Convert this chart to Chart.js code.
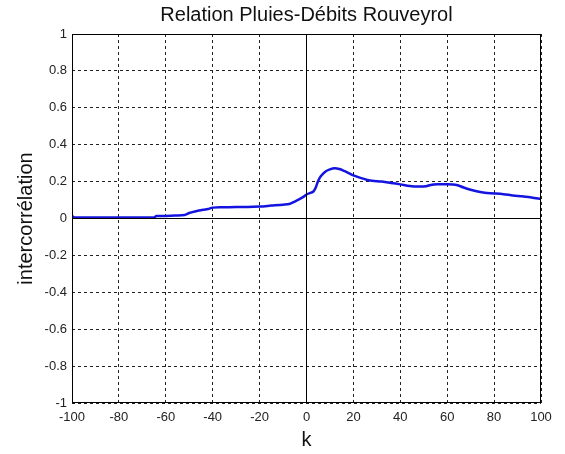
<!DOCTYPE html>
<html>
<head>
<meta charset="utf-8">
<script src="https://cdn.jsdelivr.net/npm/chart.js@4.4.1/dist/chart.umd.min.js"></script>
<style>
  html, body { margin: 0; padding: 0; background: #fff; }
  #wrap { width: 565px; height: 454px; }
</style>
</head>
<body>
<div id="wrap"><canvas id="myChart" width="565" height="454"></canvas></div>
<script>
// lag k and cross-correlation
var lags = [-100, -99, -96, -90, -80, -70, -65, -64, -60, -56, -52, -50, -48, -44, -42, -40, -36,
  -30, -25, -20, -15, -10, -7, -5, -3, -1, 0, 2, 3, 4, 5, 6, 8, 10, 12, 14, 16, 18, 20, 23,
  26, 28, 32, 36, 40, 44, 48, 51, 53, 56, 60, 64, 67, 70, 73, 76, 80, 84, 88, 92, 96, 100];
var correl = [0.014, 0.006, 0.005, 0.005, 0.005, 0.005, 0.006, 0.013, 0.014, 0.016, 0.019, 0.03,
  0.037, 0.047, 0.051, 0.059, 0.061, 0.062, 0.062, 0.065, 0.07, 0.075, 0.08, 0.092, 0.105,
  0.12, 0.13, 0.14, 0.147, 0.17, 0.205, 0.228, 0.254, 0.266, 0.272, 0.268, 0.258, 0.246,
  0.234, 0.22, 0.209, 0.204, 0.2, 0.193, 0.185, 0.176, 0.173, 0.175, 0.182, 0.185, 0.186,
  0.182, 0.168, 0.156, 0.146, 0.139, 0.136, 0.132, 0.125, 0.12, 0.114, 0.105];

var xTicks = [-100, -80, -60, -40, -20, 0, 20, 40, 60, 80, 100];
var yTicks = [-1, -0.8, -0.6, -0.4, -0.2, 0, 0.2, 0.4, 0.6, 0.8, 1];

var curve = [];
for (let i = 0; i < lags.length; i++) curve.push({ x: lags[i], y: correl[i] });

// black box around the plot area, like matlab
const boxPlugin = {
  id: 'box',
  afterDraw(c) {
    const a = c.chartArea;
    const ctx = c.ctx;
    ctx.save();
    ctx.strokeStyle = '#000';
    ctx.lineWidth = 1;
    ctx.strokeRect(a.left + 0.5, a.top + 0.5, a.right - a.left - 1, a.bottom - a.top - 1);
    ctx.restore();
  }
};

const ctx = document.getElementById('myChart');
new Chart(ctx, {
  type: 'line',
  data: {
    datasets: [{
      data: [{ x: -100, y: 0 }, { x: 100, y: 0 }],
      borderColor: '#000', borderWidth: 1, pointRadius: 0
    }, {
      data: [{ x: 0, y: -1 }, { x: 0, y: 1 }],
      borderColor: '#000', borderWidth: 1, pointRadius: 0
    }, {
      data: curve,
      borderColor: 'rgb(20,20,225)', borderWidth: 2.5, pointRadius: 0, tension: 0.3
    }]
  },
  plugins: [boxPlugin],
  options: {
    responsive: false,
    animation: false,
    events: [],
    layout: { padding: { left: 0, right: 24, top: 0, bottom: 0 } },
    plugins: {
      legend: { display: false },
      tooltip: { enabled: false },
      title: {
        display: true, fullSize: false, text: 'Relation Pluies-Débits Rouveyrol', color: '#111',
        font: { family: 'Liberation Sans', size: 20, weight: 'normal' },
        padding: { top: 3, bottom: 7 }
      }
    },
    scales: {
      x: {
        type: 'linear', min: -100, max: 100,
        afterBuildTicks: (s) => { s.ticks = xTicks.map(v => ({ value: v })); },
        afterFit: (s) => { s.height = 51; },
        grid: { color: '#222', lineWidth: 1, drawTicks: false },
        border: { display: false, dash: [3, 3] },
        ticks: { color: '#222', padding: 7, maxRotation: 0, font: { family: 'Liberation Sans', size: 13 } },
        title: {
          display: true, text: 'k', color: '#111',
          font: { family: 'Liberation Sans', size: 20 }, padding: { top: 0, bottom: 2 }
        }
      },
      y: {
        type: 'linear', min: -1, max: 1,
        afterBuildTicks: (s) => { s.ticks = yTicks.map(v => ({ value: v })); },
        afterFit: (s) => { s.width = 72; },
        grid: { color: '#222', lineWidth: 1, drawTicks: false },
        border: { display: false, dash: [3, 3] },
        ticks: {
          color: '#222', padding: 5, font: { family: 'Liberation Sans', size: 13 },
          callback: (v) => String(Math.round(v * 10) / 10)
        },
        title: {
          display: true, text: 'intercorrélation', color: '#111',
          font: { family: 'Liberation Sans', size: 20 }, padding: { top: 14, bottom: 0 }
        }
      }
    }
  }
});
</script>
</body>
</html>
